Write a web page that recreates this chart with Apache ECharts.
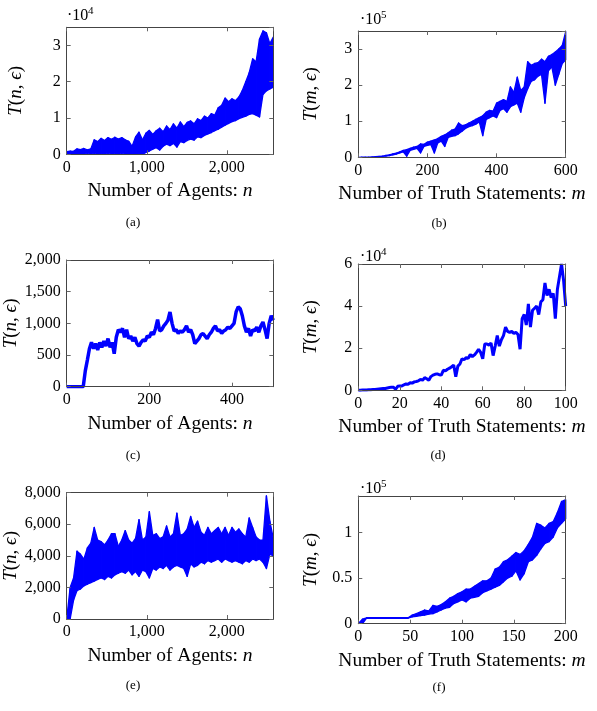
<!DOCTYPE html>
<html><head><meta charset="utf-8">
<script src="https://cdn.jsdelivr.net/npm/echarts@6/dist/echarts.min.js"></script>
<style>html,body{margin:0;padding:0;background:#fff}#c{width:597px;height:711px}</style>
</head><body><div id="c"></div>
<script>
// ---------- data ----------
// (a) T(n,eps) vs n : upper / lower edge of the noisy trace, every 43 agents
const aStep = 43;
const aHigh = [
  700, 900, 800, 1500, 1300, 1600, 1200, 1500, 4000, 3500,
  4400, 3800, 4600, 4100, 4700, 4200, 4600, 4000, 3600, 2200,
  4800, 6100, 4000, 5800, 6600, 5500, 6500, 7200, 6200, 7800,
  6800, 8400, 7200, 8900, 7600, 8800, 9200, 8400, 9800, 9300,
  10500, 10000, 11200, 10800, 12800, 13500, 15500, 14500, 15300, 14800,
  15800, 17600, 20000, 22500, 26300, 25500, 31800, 34000, 33500, 30500,
  32300
];
const aLow = [
  0, 0, 0, 100, 0, 0, 200, 0, 200, 0,
  300, 0, 200, 100, 300, 0, 200, 100, 0, 0,
  0, 300, 0, 500, 900, 1400, 1800, 1200, 2200, 2800,
  2400, 3000, 2000, 3500, 3200, 3800, 4200, 3900, 4800, 4600,
  5200, 5600, 6000, 6500, 6900, 7500, 8000, 8500, 9000, 9300,
  9800, 10200, 10500, 11000, 11200, 10800, 10300, 16500, 17500, 18000,
  18500
];
// (b) T(m,eps) vs m, every 10 statements
const bStep = 10;
const bHigh = [
  0, 200, 300, 600, 1000, 1600, 2500, 3500, 5000, 7000,
  9500, 11500, 15000, 19000, 21000, 25000, 28000, 30000, 37000, 36000,
  42000, 45000, 48000, 52000, 58000, 62000, 68000, 75000, 78000, 95000,
  88000, 90000, 95000, 100000, 105000, 110000, 115000, 125000, 130000, 128000,
  150000, 155000, 160000, 155000, 195000, 180000, 222000, 185000, 195000, 265000,
  255000, 260000, 262000, 272000, 265000, 280000, 285000, 292000, 300000, 310000,
  348000
];
const bLow = [
  0, 0, 100, 300, 600, 1000, 1700, 2500, 3500, 5000,
  7000, 9000, 12000, 15000, 3000, 19000, 22000, 25000, 12000, 30000,
  33000, 35000, 12000, 40000, 45000, 30000, 55000, 58000, 60000, 65000,
  72000, 80000, 85000, 88000, 92000, 98000, 60000, 105000, 110000, 115000,
  110000, 130000, 135000, 125000, 140000, 145000, 150000, 125000, 165000, 190000,
  210000, 215000, 225000, 230000, 150000, 240000, 250000, 200000, 230000, 260000,
  270000
];
// (c) T(n,eps) vs n, every 5 agents
const cStep = 5;
const cValues = [
  0, 0, 0, 0, 0, 0, 0, 0, 0, 250,
  420, 600, 700, 600, 680, 580, 700, 620, 720, 640,
  760, 620, 700, 520, 780, 900, 860, 920, 780, 900,
  760, 800, 720, 780, 680, 640, 700, 740, 720, 800,
  780, 860, 820, 920, 1060, 880, 900, 960, 1000, 1050,
  1180, 1000, 880, 900, 840, 880, 860, 900, 960, 860,
  900, 820, 680, 720, 760, 820, 840, 800, 760, 820,
  860, 920, 960, 880, 900, 840, 880, 900, 940, 920,
  960, 1000, 1180, 1260, 1230, 1120, 960, 860, 920, 800,
  900, 880, 940, 860, 960, 1020, 900, 760, 1000, 1120,
  1050
];
// (d) T(m,eps) vs m, every statement
const dStep = 1;
const dValues = [
  0, 50, 100, 150, 200, 250, 300, 350, 400, 500,
  600, 700, 800, 900, 1100, 1300, 1500, 1400, 500, 1900,
  2100, 2000, 2600, 3000, 2900, 3600, 3400, 4000, 4200, 4500,
  5200, 4800, 6000, 5500, 4800, 6500, 7200, 7600, 7800, 7400,
  7200, 9500, 9200, 10000, 10500, 11200, 12000, 6500, 11500, 12500,
  15000, 14500, 15500, 15200, 17000, 16000, 16800, 18000, 19500, 18000,
  15000, 22000, 22000, 21500, 22500, 16500, 21000, 26000, 21000, 24000,
  26000, 30000, 28000, 27500, 28000, 27000, 27500, 26500, 19500, 34000,
  36000, 31000, 41000, 30000, 38000, 39000, 40000, 36000, 42000, 43000,
  51000, 45000, 48000, 44000, 46000, 34000, 48000, 54000, 60000, 52000,
  40000
];
// (e) T(n,eps) vs n : upper / lower edge, every 43 agents
const eStep = 43;
const eHigh = [
  0, 2000, 2600, 4300, 4100, 3800, 4500, 4800, 5800, 5000,
  4900, 4700, 5000, 5400, 5400, 4600, 5000, 5600, 5000, 4800,
  5100, 6300, 5000, 5200, 6800, 5300, 5400, 5100, 5200, 5900,
  5200, 5400, 6700, 5300, 5400, 5700, 6500, 5800, 6200, 5500,
  5300, 5800, 5400, 5600, 5800, 5400, 5800, 5300, 5800, 5500,
  5700, 5400, 5200, 6400, 5800, 5200, 5000, 5000, 7800, 6200,
  5100
];
const eLow = [
  0, 0, 1200, 1800, 1900, 2100, 2200, 2300, 2400, 2500,
  2600, 2500, 2700, 2600, 2800, 2900, 3000, 2900, 3100, 2800,
  3000, 2700, 3100, 3000, 2600, 3200, 3100, 3300, 3200, 3400,
  3100, 3300, 3400, 3300, 3200, 2700, 3500, 3300, 3400, 3600,
  3500, 3700, 3600, 3700, 3800, 3600, 3800, 3700, 3600, 3700,
  3600, 3500, 3700, 3600, 3800, 3700, 3800, 3600, 3200, 4100,
  4000
];
// (f) T(m,eps) vs m : upper / lower edge, every 4 statements
const fStep = 4;
const fHigh = [
  0, 5000, 6500,
  6500, 6500, 6500, 6500, 6500, 6500, 6500, 6500, 6500, 6500,
  9500, 11000, 13000, 15000, 14000, 20000, 19000, 21000, 24000, 28000,
  30000, 33000, 35000, 38000, 38000, 41000, 44000, 47000, 47000, 50000,
  60000, 62000, 68000, 70000, 74000, 78000, 76000, 80000, 87000, 95000,
  110000, 108000, 105000, 110000, 112000, 122000, 134000, 136000
];
const fLow = [
  0, 0, 6000,
  6000, 6000, 6000, 6000, 6000, 6000, 6000, 6000, 6000, 6000,
  7500, 8000, 9000, 9500, 10500, 11000, 13000, 15000, 17000, 18000,
  22000, 24000, 26000, 24000, 28000, 29000, 30000, 34000, 36000, 38000,
  40000, 42000, 46000, 50000, 52000, 58000, 48000, 55000, 68000, 70000,
  75000, 82000, 88000, 90000, 95000, 105000, 110000, 115000
];

const captions = ['(a)', '(b)', '(c)', '(d)', '(e)', '(f)'];
const xNames = ['Number of Agents: ', 'Number of Truth Statements: '];
const xVars = ['n', 'm'];
// axis ranges: [xMax, xInterval, yMax, yInterval, yLabelDivisor, exponent]
const axes = [
  [2580, 1000, 35000, 10000, 10000, '4'],
  [600, 200, 350000, 100000, 100000, '5'],
  [500, 200, 2000, 500, 1, null],
  [100, 20, 60000, 20000, 10000, '4'],
  [2580, 1000, 8000, 2000, 1, null],
  [200, 50, 140000, 50000, 100000, '5']
];
const panels = [
  {kind: 0, step: aStep, high: aHigh, low: aLow},
  {kind: 1, step: bStep, high: bHigh, low: bLow},
  {kind: 0, step: cStep, values: cValues},
  {kind: 1, step: dStep, values: dValues},
  {kind: 0, step: eStep, high: eHigh, low: eLow},
  {kind: 1, step: fStep, high: fHigh, low: fLow}
];

// ---------- layout ----------
const boxes = [
  [66.7, 27.3, 206.6, 127], [358.3, 31, 207.4, 126.3],
  [66.7, 260, 206.6, 126.7], [358.3, 264, 207.4, 126.3],
  [66.7, 492.7, 206.6, 126.3], [358.3, 496, 207.4, 127.7]
];
const capPos = [[133, 223], [439, 224], [133, 456], [438, 456], [133, 686], [439, 688]];
const expPos = [[67, 16], [360, 20], null, [360, 257], null, [360, 489]];
const lineWidths = [1.3, 1.3, 3.5, 3, 1.3, 1.3];

const FONT = 'Liberation Serif';
const AX = '#444';
const BLUE = '#0000ff';

function fmt(v) {
  let s = String(Math.round(v * 100) / 100);
  if (Math.abs(v) >= 1000) s = s.replace(/\B(?=(\d{3})+(?!\d))/g, ',');
  return s;
}
function richStyle(size) {
  return {color: '#000', fontFamily: FONT, fontSize: size,
    rich: {r: {fontFamily: FONT, fontSize: size, color: '#000'},
           i: {fontFamily: FONT, fontSize: size, fontStyle: 'italic', color: '#000'}}};
}

const grid = [], xAxis = [], yAxis = [], series = [], graphic = [];
boxes.forEach((b, i) => {
  grid.push({left: b[0], top: b[1], width: b[2], height: b[3], containLabel: false});
  const [xMax, xInt, yMax, yInt, yDiv, ex] = axes[i];
  const p = panels[i];
  const tick = {show: true, inside: true, length: 4, lineStyle: {color: '#666', width: 1}};
  const line = {show: true, onZero: false, lineStyle: {color: AX, width: 1}};
  xAxis.push({
    type: 'value', gridIndex: i, position: 'bottom', min: 0, max: xMax, interval: xInt,
    axisLine: line, axisTick: tick, splitLine: {show: false}, z: 5,
    axisLabel: {margin: 5, color: '#000', fontFamily: FONT, fontSize: 16, showMaxLabel: xMax % xInt === 0,
      formatter: v => (v % xInt === 0 ? fmt(v) : '')},
    name: '{r|' + xNames[p.kind] + '}{i|' + xVars[p.kind] + '}', nameLocation: 'middle', nameGap: 27,
    nameTextStyle: richStyle(19.5)
  });
  xAxis.push({
    type: 'value', gridIndex: i, position: 'top', min: 0, max: xMax, interval: xInt, z: 5,
    axisLine: line, axisTick: tick, splitLine: {show: false}, axisLabel: {show: false}
  });
  yAxis.push({
    type: 'value', gridIndex: i, position: 'left', min: 0, max: yMax, interval: yInt,
    axisLine: line, axisTick: tick, splitLine: {show: false}, z: 5,
    axisLabel: {margin: 6, color: '#000', fontFamily: FONT, fontSize: 16, showMaxLabel: yMax % yInt === 0,
      formatter: v => (v % yInt === 0 ? fmt(v / yDiv) : '')},
    name: '{i|T}{r|(}{i|' + xVars[p.kind] + '}{r|, }{i|ϵ}{r|)}', nameLocation: 'middle',
    nameGap: p.kind === 0 ? 41 : 38,
    nameTextStyle: richStyle(19)
  });
  yAxis.push({
    type: 'value', gridIndex: i, position: 'right', min: 0, max: yMax, interval: yInt, z: 5,
    axisLine: line, axisTick: tick, splitLine: {show: false}, axisLabel: {show: false}
  });
  const lw = lineWidths[i];
  if (p.values) {
    series.push({
      type: 'line', xAxisIndex: 2 * i, yAxisIndex: 2 * i, showSymbol: false, symbol: 'none',
      data: p.values.map((v, k) => [k * p.step, v]), clip: true,
      lineStyle: {color: BLUE, width: lw}, itemStyle: {color: BLUE}
    });
  } else {
    const n = p.low.length;
    series.push({
      type: 'custom', coordinateSystem: 'cartesian2d', xAxisIndex: 2 * i, yAxisIndex: 2 * i,
      clip: true,
      data: p.low.map((v, k) => [k * p.step, v, p.high[k]]),
      encode: {x: 0, y: [1, 2]},
      renderItem: (params, api) => {
        const k = params.dataIndex;
        if (k >= n - 1) return null;
        const x0 = api.value(0), x1 = (k + 1) * p.step;
        const pts = [
          api.coord([x0, api.value(1)]), api.coord([x0, api.value(2)]),
          api.coord([x1, p.high[k + 1]]), api.coord([x1, p.low[k + 1]])
        ];
        return {type: 'polygon', shape: {points: pts},
          style: {fill: BLUE, stroke: BLUE, lineWidth: lw, lineJoin: 'round'}};
      }
    });
  }
  graphic.push({type: 'text', x: capPos[i][0], y: capPos[i][1],
    style: {text: captions[i], font: '13px "' + FONT + '"', fill: '#000', textAlign: 'center', textVerticalAlign: 'middle'}});
  if (ex) {
    const q = expPos[i];
    graphic.push({type: 'text', x: q[0], y: q[1],
      style: {text: '·10', font: '16px "' + FONT + '"', fill: '#000', textAlign: 'left', textVerticalAlign: 'middle'}});
    graphic.push({type: 'text', x: q[0] + 21, y: q[1] - 5,
      style: {text: ex, font: '11px "' + FONT + '"', fill: '#000', textAlign: 'left', textVerticalAlign: 'middle'}});
  }
});

const chart = echarts.init(document.getElementById('c'), null, {renderer: 'canvas'});
chart.setOption({animation: false, backgroundColor: '#fff', grid, xAxis, yAxis, series, graphic});
</script></body></html>
